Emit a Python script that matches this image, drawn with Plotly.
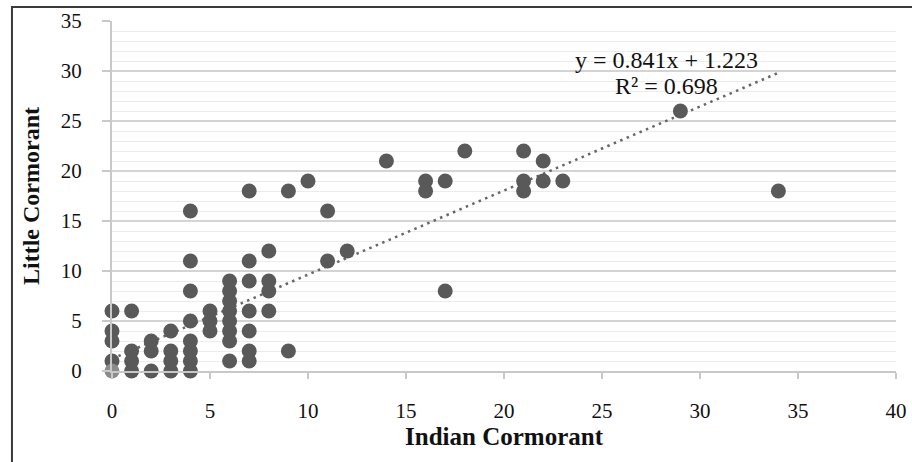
import plotly.graph_objects as go
import numpy as np

# Data
indian = [0, 0, 0, 0, 0,
          1, 1, 1, 1,
          2, 2, 2,
          3, 3, 3, 3,
          4, 4, 4, 4, 4, 4, 4, 4,
          5, 5, 5,
          6, 6, 6, 6, 6, 6, 6, 6,
          7, 7, 7, 7, 7, 7, 7,
          8, 8, 8, 8,
          9, 9,
          10,
          11, 11,
          12,
          14,
          16, 16,
          17, 17,
          18,
          21, 21, 21,
          22, 22,
          23,
          29,
          34]
little = [6, 4, 3, 1, 0,
          6, 2, 1, 0,
          3, 2, 0,
          4, 2, 1, 0,
          16, 11, 8, 5, 3, 2, 1, 0,
          6, 5, 4,
          9, 8, 7, 6, 5, 4, 3, 1,
          18, 11, 9, 6, 4, 2, 1,
          12, 9, 8, 6,
          18, 2,
          19,
          16, 11,
          12,
          21,
          19, 18,
          19, 8,
          22,
          22, 19, 18,
          21, 19,
          19,
          26,
          18]

slope = 0.841
intercept = 1.223
r_squared = 0.698

x_ticks = [0, 5, 10, 15, 20, 25, 30, 35, 40]
y_ticks = [0, 5, 10, 15, 20, 25, 30, 35]

font_serif = "Liberation Serif, Times New Roman, serif"

fig = go.Figure()

# trendline
xl = np.array([min(indian), max(indian)], dtype=float)
fig.add_trace(go.Scatter(
    x=xl, y=slope * xl + intercept, mode="lines",
    line=dict(color="#666666", width=2.5, dash="2.5px,4.5px"),
    hoverinfo="skip", showlegend=False))

main_x = [a for a, b in zip(indian, little) if not (a == 0 and b == 0)]
main_y = [b for a, b in zip(indian, little) if not (a == 0 and b == 0)]
orig_x = [a for a, b in zip(indian, little) if (a == 0 and b == 0)]
orig_y = [b for a, b in zip(indian, little) if (a == 0 and b == 0)]

fig.add_trace(go.Scatter(
    x=main_x, y=main_y, mode="markers",
    marker=dict(color="#595959", size=15, line=dict(width=0)),
    cliponaxis=False, showlegend=False))
fig.add_trace(go.Scatter(
    x=orig_x, y=orig_y, mode="markers",
    marker=dict(color="#8c8c8c", size=15, line=dict(width=0)),
    cliponaxis=False, showlegend=False))

fig.add_annotation(x=28.3, y=31.1, xref="x", yref="y",
                   text=f"y = {slope}x + {intercept}", showarrow=False,
                   font=dict(family=font_serif, size=24, color="#111111"))
fig.add_annotation(x=28.3, y=28.5, xref="x", yref="y",
                   text=f"R² = {r_squared}", showarrow=False,
                   font=dict(family=font_serif, size=24, color="#111111"))

# outer frame (right side falls outside the picture)
fig.add_shape(type="rect", xref="paper", yref="paper",
              x0=-0.1276, x1=1.05, y0=-0.35, y1=1.04,
              line=dict(color="#3a3a3a", width=2), layer="above")

fig.update_layout(
    width=912, height=462,
    margin=dict(l=112, r=16, t=21, b=91, autoexpand=False),
    paper_bgcolor="white", plot_bgcolor="white",
    font=dict(family=font_serif, color="#111111"),
    xaxis=dict(
        range=[0, 40], tickvals=x_ticks, ticktext=[str(v) for v in x_ticks],
        automargin=False,
        showgrid=False, zeroline=False,
        showline=True, linecolor="#c8c8c8", linewidth=2,
        ticks="outside", ticklen=6, tickcolor="#c8c8c8", tickwidth=1.5,
        tickfont=dict(size=21, family=font_serif, color="#111111"),
        ticklabelstandoff=14,
        title=dict(text="<b>Indian Cormorant</b>", standoff=4,
                   font=dict(size=25, family=font_serif, color="#111111")),
    ),
    yaxis=dict(
        range=[0, 35], tickvals=y_ticks, ticktext=[str(v) for v in y_ticks],
        automargin=False,
        showgrid=True, gridcolor="#d4d4d4", gridwidth=1.5,
        minor=dict(dtick=1, showgrid=True, gridcolor="#ececec", gridwidth=1),
        zeroline=False,
        showline=True, linecolor="#c8c8c8", linewidth=2,
        ticks="outside", ticklen=8, tickcolor="#c8c8c8", tickwidth=1.5,
        tickfont=dict(size=21, family=font_serif, color="#111111"),
        ticklabelstandoff=16,
        title=dict(text="<b>Little Cormorant</b>", standoff=14,
                   font=dict(size=24, family=font_serif, color="#111111")),
    ),
)

fig.write_html("out.html")
